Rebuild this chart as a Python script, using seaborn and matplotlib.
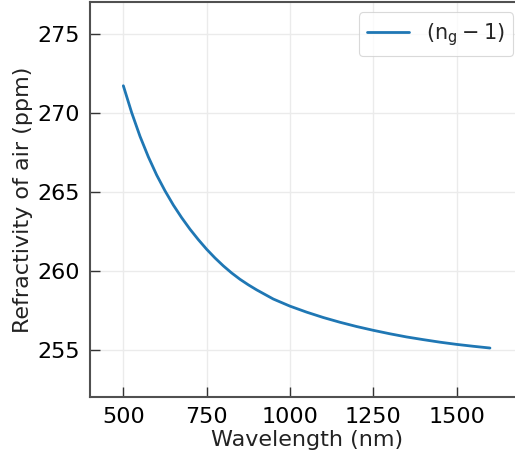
import matplotlib
matplotlib.use("Agg")
import matplotlib.pyplot as plt
import seaborn as sns
import pandas as pd

# Group refractivity of air, (n_g - 1) in ppm, versus vacuum wavelength
wavelength_nm = [500, 525, 550, 575, 600, 625, 650, 675, 700, 725, 750, 775,
                 800, 825, 850, 875, 900, 950, 1000, 1050, 1100, 1150, 1200,
                 1250, 1300, 1350, 1400, 1450, 1500, 1550, 1600]
refractivity_ppm = [271.7, 270.0, 268.5, 267.2, 266.05, 265.05, 264.15, 263.35,
                    262.62, 261.96, 261.35, 260.8, 260.3, 259.85, 259.45, 259.1,
                    258.78, 258.2, 257.75, 257.37, 257.03, 256.73, 256.46,
                    256.22, 256.0, 255.8, 255.63, 255.47, 255.33, 255.21, 255.1]
series_label = r"$(n_g - 1)$"
xticks = [500, 750, 1000, 1250, 1500]
yticks = [255, 260, 265, 270, 275]

df = pd.DataFrame({"wavelength": wavelength_nm, "refractivity": refractivity_ppm,
                   "series": series_label})

sns.set_theme(style="whitegrid")
plt.rcParams["font.family"] = ["DejaVu Sans"]
plt.rcParams["mathtext.default"] = "regular"

fig = plt.figure(figsize=(5.15, 4.57), dpi=100)
ax = fig.add_axes([90 / 515, 1 - 397 / 457, 433.3 / 515, 395 / 457])

sns.lineplot(data=df, x="wavelength", y="refractivity", hue="series",
             palette=["#1f77b4"], linewidth=2.0, ax=ax)

ax.set_xlim(400, 1700)
ax.set_ylim(252, 277)
ax.set_xticks(xticks)
ax.set_yticks(yticks)
ax.grid(True, color="#ebebeb", linewidth=1.0)

for side in ["left", "bottom", "top", "right"]:
    ax.spines[side].set_color("#505050")
    ax.spines[side].set_linewidth(1.5)

ax.tick_params(axis="both", direction="in", length=7, width=1.0,
               color="#333333", labelsize=16, labelcolor="black", pad=7,
               left=True, bottom=True)

ax.set_xlabel("Wavelength (nm)", fontsize=16, color="#222222", labelpad=2)
ax.set_ylabel("Refractivity of air (ppm)", fontsize=16, color="#222222", labelpad=3)

leg = ax.legend(loc="upper right", fontsize=15, frameon=True,
                handlelength=2.0, borderaxespad=0.5)
leg.get_frame().set_edgecolor("#d0d0d0")
leg.get_frame().set_linewidth(0.8)

fig.savefig("out.png", dpi=100)
